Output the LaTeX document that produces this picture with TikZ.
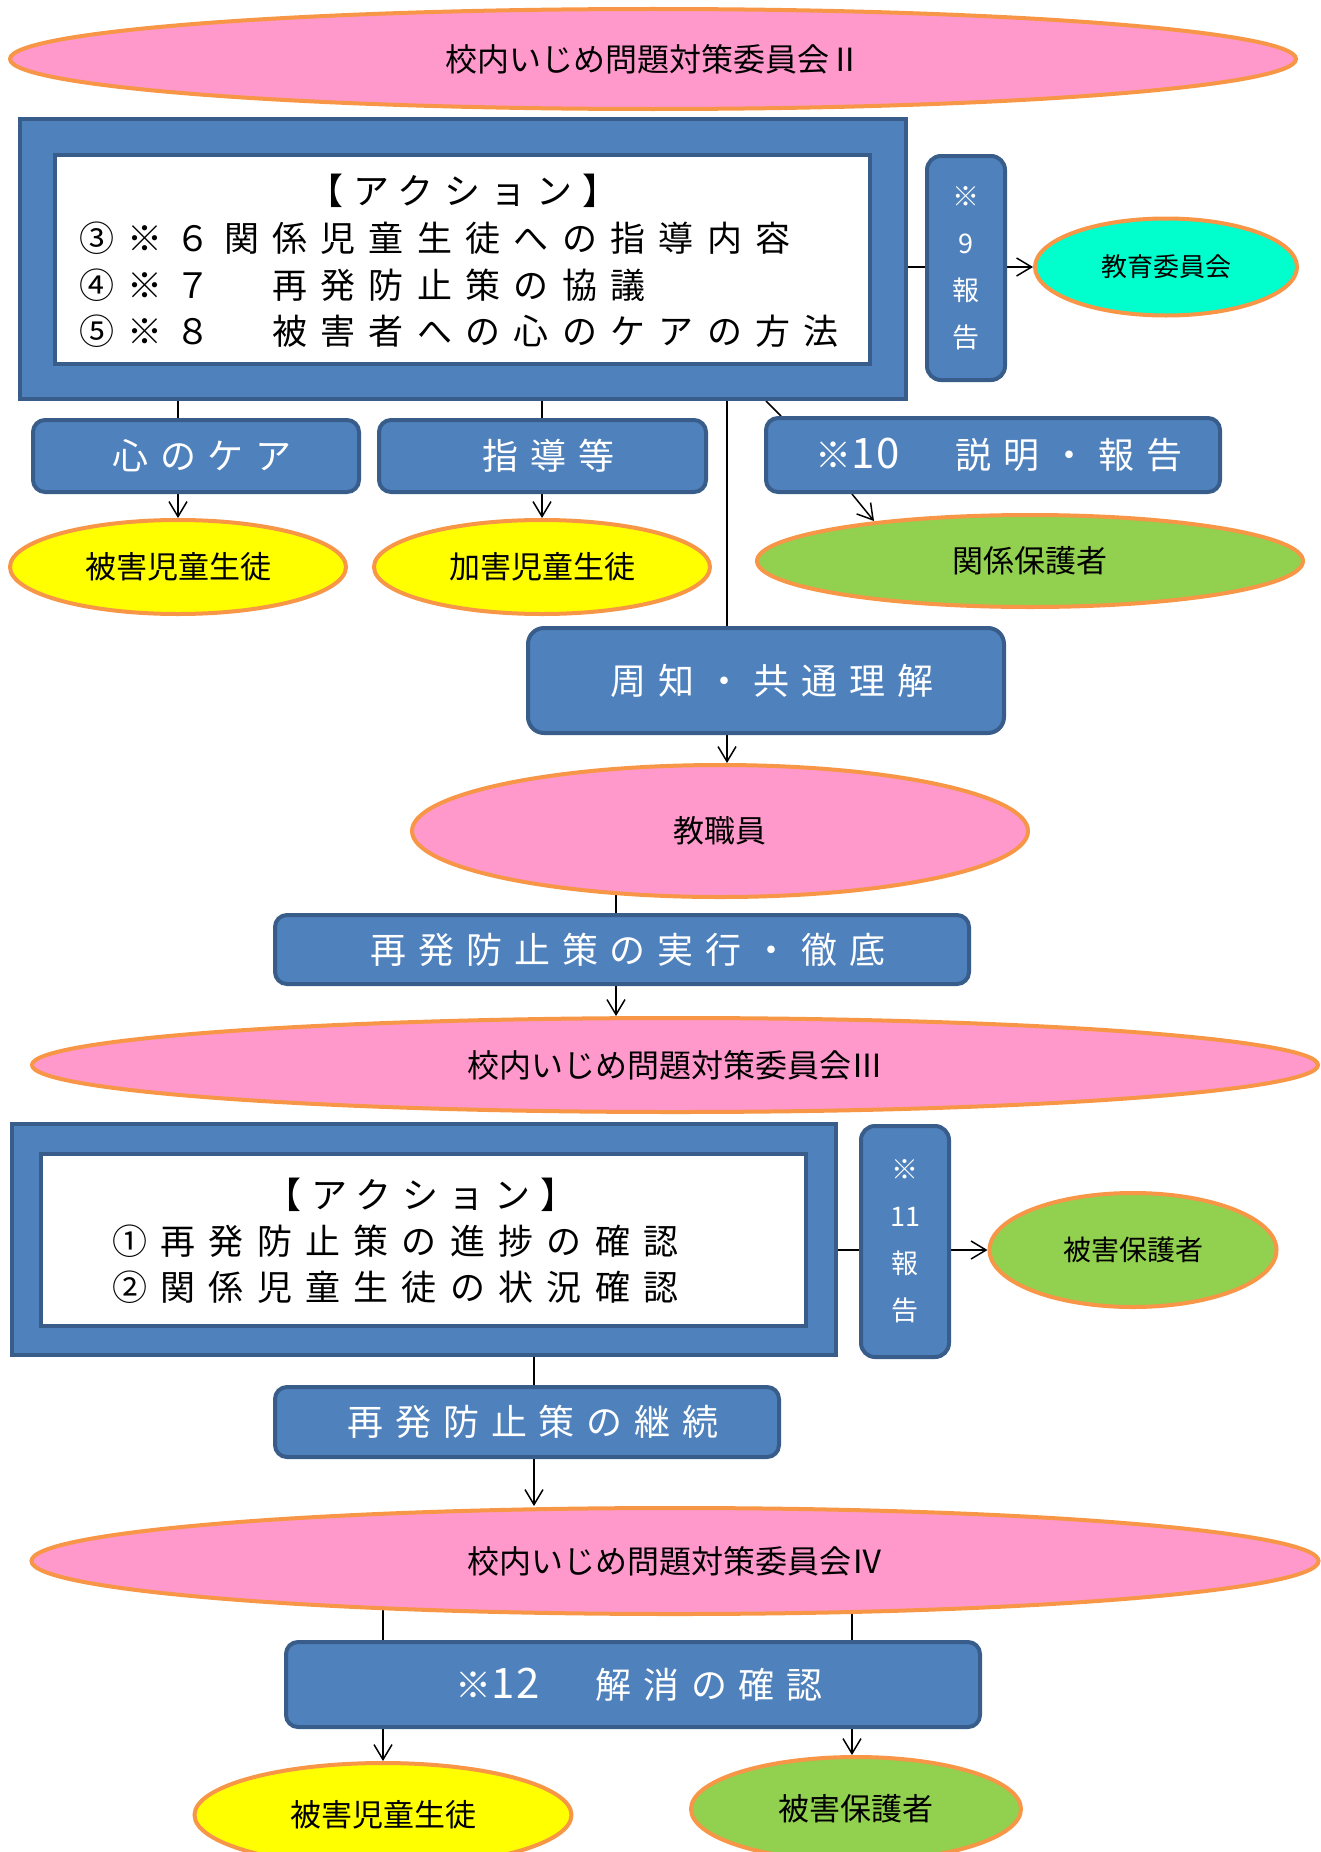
\documentclass[tikz,border=0pt]{standalone}
\usepackage{fontspec}
\usetikzlibrary{arrows.meta,shapes.geometric}
\newfontfamily\jp{Noto Sans CJK JP}
\newfontfamily\jpsp[LetterSpace=33]{Noto Sans CJK JP}
\newfontfamily\jpat[LetterSpace=38]{Noto Sans CJK JP}
\newfontfamily\jpspb[LetterSpace=28]{Noto Sans CJK JP}
\newfontfamily\jpd[LetterSpace=4]{Noto Sans CJK JP}
\newcommand\bignum[1]{{\jpd\fontsize{42}{42}\selectfont #1}\hspace{8pt}}
\definecolor{bfill}{HTML}{4F81BD}
\definecolor{bline}{HTML}{385D8A}
\definecolor{oline}{HTML}{F79646}
\definecolor{pinkf}{HTML}{FF99CC}
\definecolor{yellowf}{HTML}{FFFF00}
\definecolor{greenf}{HTML}{92D050}
\definecolor{cyanf}{HTML}{00FFCC}
\pgfdeclarelayer{bg}
\pgfsetlayers{bg,main}
\tikzset{
  oval/.style={ellipse, draw=oline, line width=4pt, inner sep=0pt, text=black,
    font=\jp\fontsize{31}{31}\selectfont},
  bbox/.style={rectangle, rounded corners=12pt, draw=bline, fill=bfill, line width=4pt,
    inner sep=0pt, text=white, font=\jpsp\fontsize{36}{36}\selectfont,
    execute at end node={\kern-12pt}},
  frame/.style={rectangle, draw=bline, fill=bfill, line width=4pt, inner sep=0pt},
  paper/.style={rectangle, draw=bline, fill=white, line width=4pt, inner sep=0pt},
  vbox/.style={rectangle, rounded corners=14pt, draw=bline, fill=bfill, line width=4pt,
    inner sep=0pt, text=white, align=center, font=\jp\fontsize{27}{47}\selectfont},
  acttxt/.style={inner sep=0pt, text=black, font=\jpat\fontsize{35}{35}\selectfont},
  acttitle/.style={inner sep=0pt, text=black, font=\jpspb\fontsize{36}{36}\selectfont,
    execute at end node={\kern-10pt}},
  conn/.style={line width=1.5pt, draw=black},
  arr/.style={conn, -{Straight Barb[length=15pt,width=18pt,line width=1.5pt]}}
}
\begin{document}
\begin{tikzpicture}[x=1pt,y=-1pt]
\useasboundingbox (0,0) rectangle (1320,1852);

% committee II
\node[oval, fill=pinkf, minimum width=1286pt, minimum height=100pt, font=\jp\fontsize{32}{32}\selectfont] (c2) at (653,59) {校内いじめ問題対策委員会Ⅱ};

% action box 1
\node[frame, minimum width=886pt, minimum height=280pt] (box1) at (463,259) {};
\node[paper, minimum width=815pt, minimum height=209pt] (in1) at (462.5,259.5) {};
\node[acttitle] (a1t) at (458,191) {【アクション】};
\node[acttxt, anchor=west] (a1a) at (79,238) {③※６関係児童生徒への指導内容};
\node[acttxt, anchor=west] (a1b) at (79,285) {④※７　再発防止策の協議};
\node[acttxt, anchor=west] (a1c) at (79,331) {⑤※８　被害者への心のケアの方法};

\node[vbox, minimum width=78pt, minimum height=224pt] (r9) at (966,268) {※\\9\\報\\告};
\node[oval, fill=cyanf, minimum width=262pt, minimum height=97pt, font=\jp\fontsize{26}{26}\selectfont] (kyoi) at (1166,267) {教育委員会};

% second row
\node[bbox, minimum width=326pt, minimum height=72pt] (care) at (196,456) {心のケア};
\node[bbox, minimum width=327pt, minimum height=72pt] (shido) at (542.5,456) {指導等};
\node[bbox, minimum width=454pt, minimum height=74pt] (setsu) at (993,455) {※\bignum{10}　説明・報告};

\node[oval, fill=yellowf, minimum width=336pt, minimum height=94pt] (hig1) at (178,567) {被害児童生徒};
\node[oval, fill=yellowf, minimum width=336pt, minimum height=94pt] (kag) at (542,567) {加害児童生徒};
\node[oval, fill=greenf, minimum width=546pt, minimum height=92pt] (kanh) at (1030,561) {関係保護者};

\node[bbox, rounded corners=16pt, minimum width=476pt, minimum height=105pt] (shuchi) at (766,680.5) {周知・共通理解};
\node[oval, fill=pinkf, minimum width=616pt, minimum height=132pt] (kyosho) at (720,831) {教職員};
\node[bbox, minimum width=694pt, minimum height=69pt] (jikko) at (622,949.5) {再発防止策の実行・徹底};

% committee III
\node[oval, fill=pinkf, minimum width=1286pt, minimum height=94pt, font=\jp\fontsize{32}{32}\selectfont] (c3) at (675,1065) {校内いじめ問題対策委員会Ⅲ};

% action box 2
\node[frame, minimum width=824pt, minimum height=231pt] (box2) at (424,1239.5) {};
\node[paper, minimum width=765pt, minimum height=172pt] (in2) at (423.5,1240) {};
\node[acttitle] (a2t) at (416,1195) {【アクション】};
\node[acttxt, anchor=west] (a2a) at (112,1241) {①再発防止策の進捗の確認};
\node[acttxt, anchor=west] (a2b) at (112,1287) {②関係児童生徒の状況確認};

\node[vbox, minimum width=88pt, minimum height=231pt] (r11) at (905,1241.5) {※\\11\\報\\告};
\node[oval, fill=greenf, minimum width=287pt, minimum height=114pt, font=\jp\fontsize{28}{28}\selectfont] (hgm) at (1133,1250) {被害保護者};

\node[bbox, minimum width=504pt, minimum height=70pt] (keizoku) at (527,1422) {再発防止策の継続};

% committee IV
\node[oval, fill=pinkf, minimum width=1287pt, minimum height=106pt, font=\jp\fontsize{32}{32}\selectfont] (c4) at (675,1561) {校内いじめ問題対策委員会Ⅳ};

\node[bbox, minimum width=694pt, minimum height=85pt] (kaisho) at (633,1684.5) {※\bignum{12}　解消の確認};

\node[oval, fill=yellowf, minimum width=377pt, minimum height=104pt] (hig3) at (383,1815) {被害児童生徒};
\node[oval, fill=greenf, minimum width=330pt, minimum height=104pt] (hgb) at (856,1809) {被害保護者};

% helper coordinates for connector positions
\coordinate (s10a) at (766,0);
\coordinate (s10b) at (781,0);
\coordinate (s10c) at (852,0);
\coordinate (s10d) at (874,521);
\coordinate (vx) at (727,0);
\coordinate (jx) at (616,0);
\coordinate (kx) at (534,0);
\coordinate (lx1) at (383,0);
\coordinate (lx2) at (852,0);

\begin{pgfonlayer}{bg}
\draw[arr] (box1.east |- kyoi.west) -- (kyoi.west);
\draw[conn] (box1.south -| hig1) -- (care.north -| hig1);
\draw[arr] (care.south -| hig1) -- (hig1.north);
\draw[conn] (box1.south -| kag) -- (shido.north -| kag);
\draw[arr] (shido.south -| kag) -- (kag.north);
\draw[conn] (box1.south -| s10a) -- (setsu.north -| s10b);
\draw[arr] (setsu.south -| s10c) -- (s10d);
\draw[conn] (box1.south -| vx) -- (shuchi.north -| vx);
\draw[arr] (shuchi.south -| vx) -- (kyosho.north -| vx);
\draw[conn] (kyosho.center -| jx) -- (jikko.north -| jx);
\draw[arr] (jikko.south -| jx) -- (c3.north -| jx);
\draw[arr] (box2.east |- hgm.west) -- (hgm.west);
\draw[conn] (box2.south -| kx) -- (keizoku.north -| kx);
\draw[arr] (keizoku.south -| kx) -- (c4.north -| kx);
\draw[conn] (c4.center -| lx1) -- (kaisho.north -| lx1);
\draw[conn] (c4.center -| lx2) -- (kaisho.north -| lx2);
\draw[arr] (kaisho.south -| lx1) -- (hig3.north);
\draw[arr] (kaisho.south -| lx2) -- (hgb.north -| lx2);
\end{pgfonlayer}
\end{tikzpicture}
\end{document}
